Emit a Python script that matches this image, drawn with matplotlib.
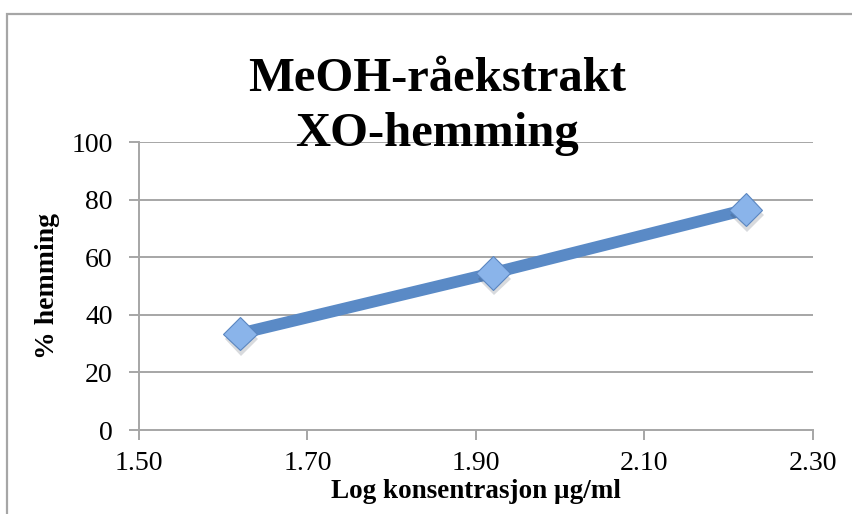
import matplotlib.pyplot as plt
from matplotlib.patches import Rectangle
import matplotlib.patheffects as pe

# log concentration (µg/ml) vs. % inhibition
log_conc = [1.62, 1.92, 2.22]
hemming = [33.5, 54.5, 76.5]

x_ticks = [1.50, 1.70, 1.90, 2.10, 2.30]
y_ticks = [0, 20, 40, 60, 80, 100]

plt.rcParams['font.family'] = ['Liberation Serif', 'DejaVu Serif']

fig = plt.figure(figsize=(8.52, 5.14), dpi=100)
ax = fig.add_axes([0.1631, 0.1634, 0.7911, 0.5603])

# chart frame (runs off the right and bottom edge)
fig.patches.append(Rectangle((7 / 852, -0.1), 1.2, 1 - 14 / 514 + 0.1,
                             transform=fig.transFigure, fill=False,
                             edgecolor='#a6a6a6', linewidth=1.6, zorder=0))

grey = '#a6a6a6'
for y in y_ticks[1:]:
    ax.axhline(y, color=grey, linewidth=1.4, zorder=1)

ax.plot(log_conc, hemming, color='#5a8ac6', linewidth=8.5,
        solid_capstyle='butt', zorder=2)
ax.plot(log_conc, hemming, linestyle='none', marker='D', markersize=17,
        markerfacecolor='#8ab4ea', markeredgecolor='#5a86c0',
        markeredgewidth=0.8, zorder=3,
        path_effects=[pe.SimplePatchShadow(offset=(1, -4), alpha=0.18),
                      pe.Normal()])

ax.set_xlim(1.50, 2.30)
ax.set_ylim(0, 100)
ax.set_xticks(x_ticks)
ax.set_xticklabels([f'{v:.2f}' for v in x_ticks])
ax.set_yticks(y_ticks)
ax.tick_params(axis='both', labelsize=20, color=grey, width=1.4,
               length=7, direction='out')
ax.tick_params(axis='x', pad=8)
ax.tick_params(axis='y', pad=12)

for side in ['top', 'right']:
    ax.spines[side].set_visible(False)
for side in ['left', 'bottom']:
    ax.spines[side].set_color(grey)
    ax.spines[side].set_linewidth(1.4)

ax.set_xlabel('Log konsentrasjon µg/ml', fontsize=19.5, fontweight='bold',
              labelpad=2)
ax.set_ylabel('% hemming', fontsize=20, fontweight='bold', labelpad=8)

fig.text(0.513, 0.89, 'MeOH-råekstrakt\nXO-hemming', ha='center',
         va='top', fontsize=35, fontweight='bold', linespacing=1.35)

fig.savefig('out.png', dpi=100)
